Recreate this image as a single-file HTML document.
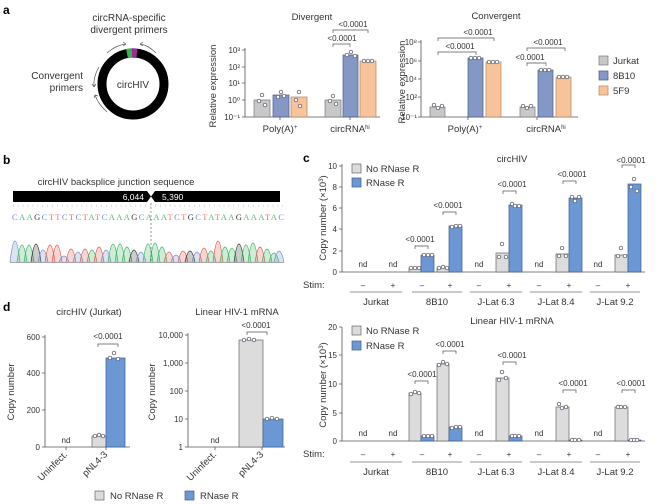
<!DOCTYPE html>
<html><head><meta charset="utf-8"><style>
body{margin:0;background:#fff}
svg{display:block;font-family:"Liberation Sans",sans-serif}
.t{font-size:9.5px;fill:#333}
.s{font-size:8px;fill:#333}
.p{font-size:8px;fill:#333;text-anchor:middle}
.ax{stroke:#555;stroke-width:0.8;fill:none}
.br{stroke:#555;stroke-width:0.7;fill:none}
.g{fill:#dcdcdc;stroke:#666;stroke-width:0.7}
.b{fill:#6b98d4;stroke:#3d5f8c;stroke-width:0.7}
.ga{fill:#c8c8c8;stroke:#777;stroke-width:0.7}
.ba{fill:#8597c4;stroke:#4a5a85;stroke-width:0.7}
.oa{fill:#f6c39a;stroke:#b58660;stroke-width:0.7}
.d{fill:#fff;stroke:#445;stroke-width:0.7}
.m{text-anchor:middle}
.e{text-anchor:end}
</style></head><body>
<svg width="660" height="504" viewBox="0 0 660 504">
<text x="3" y="14" style="font-size:12px;font-weight:bold">a</text>
<text x="3" y="164" style="font-size:12px;font-weight:bold">b</text>
<text x="303" y="162" style="font-size:12px;font-weight:bold">c</text>
<text x="3" y="311" style="font-size:12px;font-weight:bold">d</text>

<text x="129" y="21" class="t m" style="font-size:10px">circRNA-specific</text>
<text x="129" y="33" class="t m" style="font-size:10px">divergent primers</text>
<text x="83" y="79" class="t e" style="font-size:10px">Convergent</text>
<text x="83" y="91" class="t e" style="font-size:10px">primers</text>
<circle cx="133" cy="84" r="31" fill="none" stroke="#000" stroke-width="9"/>
<path d="M127 53.6 A31 31 0 0 1 132 53" fill="none" stroke="#3cb44b" stroke-width="9.5"/>
<path d="M132 53 A31 31 0 0 1 137 53.3" fill="none" stroke="#9b2b9b" stroke-width="9.5"/>
<text x="133" y="88" class="t m" style="font-size:10px">circHIV</text>
<path d="M107 53 Q116 45 126 44" class="br" stroke="#333"/><path d="M126 44 l-3 -2 M126 44 l-3 2" class="br"/>
<path d="M156 53 Q148 45 140 44" class="br"/><path d="M140 44 l3 -2 M140 44 l3 2" class="br"/>
<path d="M99 67 Q93 77 94 87" class="br"/><path d="M94 87 l-2 -3 M94 87 l2 -3" class="br"/>
<path d="M107 112 Q98 104 95 95" class="br"/><path d="M95 95 l-1 3 M95 95 l3 1" class="br"/>

<text x="312" y="20" class="t m">Divergent</text>
<text transform="translate(216,86) rotate(-90)" class="t m">Relative expression</text>
<path class="ax" d="M245 48 V117 H380"/>
<g class="s e">
<text x="240" y="53">10³</text><text x="240" y="70">10²</text><text x="240" y="86">10¹</text><text x="240" y="103">10⁰</text><text x="240" y="120">10⁻¹</text></g>
<path class="ax" d="M242 50h3M242 67h3M242 83h3M242 100h3M242 117h3M280 117v3M350 117v3"/>
<rect class="ga" x="254" y="100" width="16" height="17"/>
<rect class="ba" x="273" y="95" width="16" height="22"/>
<rect class="oa" x="291" y="97" width="16" height="20"/>
<rect class="ga" x="325" y="100" width="16" height="17"/>
<rect class="ba" x="343" y="55" width="15" height="62"/>
<rect class="oa" x="360" y="61" width="16" height="56"/>
<g class="d"><circle cx="262" cy="95" r="1.8"/><circle cx="259" cy="101" r="1.8"/><circle cx="265" cy="105" r="1.8"/>
<circle cx="281" cy="92" r="1.8"/><circle cx="278" cy="97" r="1.8"/><circle cx="284" cy="96" r="1.8"/>
<circle cx="299" cy="92" r="1.8"/><circle cx="296" cy="100" r="1.8"/><circle cx="300" cy="106" r="1.8"/>
<circle cx="333" cy="96" r="1.8"/><circle cx="330" cy="101" r="1.8"/><circle cx="336" cy="104" r="1.8"/>
<circle cx="347" cy="55" r="1.8"/><circle cx="351" cy="52" r="1.8"/><circle cx="355" cy="56" r="1.8"/>
<circle cx="364" cy="61" r="1.8"/><circle cx="368" cy="61" r="1.8"/><circle cx="372" cy="61" r="1.8"/></g>
<text x="280" y="132" class="t m">Poly(A)<tspan dy="-3" style="font-size:6px">+</tspan></text>
<text x="350" y="132" class="t m">circRNA<tspan dy="-3" style="font-size:6px">hi</tspan></text>
<text x="342" y="41" class="p">&lt;0.0001</text><path class="br" d="M333 47v-3h17v3"/>
<text x="353" y="27" class="p">&lt;0.0001</text><path class="br" d="M333 33v-3h35v3"/>

<text x="496" y="19" class="t m">Convergent</text>
<text transform="translate(405,82) rotate(-90)" class="t m">Relative expression</text>
<path class="ax" d="M421 40 V117 H578"/>
<g class="s e">
<text x="417" y="45">10⁸</text><text x="417" y="64">10⁶</text><text x="417" y="82">10⁴</text><text x="417" y="100">10²</text><text x="417" y="120">10⁻¹</text></g>
<path class="ax" d="M418 42h3M418 61h3M418 79h3M418 97h3M418 117h3M468 117v3M537 117v3"/>
<rect class="ga" x="430" y="107" width="15" height="10"/>
<rect class="ba" x="468" y="58" width="15" height="59"/>
<rect class="oa" x="486" y="62" width="15" height="55"/>
<rect class="ga" x="520" y="107" width="15" height="10"/>
<rect class="ba" x="538" y="70" width="15" height="47"/>
<rect class="oa" x="556" y="77" width="15" height="40"/>
<g class="d"><circle cx="434" cy="105" r="1.8"/><circle cx="438" cy="108" r="1.8"/><circle cx="442" cy="106" r="1.8"/>
<circle cx="471" cy="58" r="1.8"/><circle cx="475" cy="58" r="1.8"/><circle cx="479" cy="58" r="1.8"/>
<circle cx="489" cy="62" r="1.8"/><circle cx="493" cy="62" r="1.8"/><circle cx="497" cy="62" r="1.8"/>
<circle cx="523" cy="106" r="1.8"/><circle cx="527" cy="108" r="1.8"/><circle cx="531" cy="106" r="1.8"/>
<circle cx="541" cy="70" r="1.8"/><circle cx="545" cy="70" r="1.8"/><circle cx="549" cy="70" r="1.8"/>
<circle cx="559" cy="77" r="1.8"/><circle cx="563" cy="77" r="1.8"/><circle cx="567" cy="77" r="1.8"/></g>
<text x="465" y="132" class="t m">Poly(A)<tspan dy="-3" style="font-size:6px">+</tspan></text>
<text x="546" y="132" class="t m">circRNA<tspan dy="-3" style="font-size:6px">hi</tspan></text>
<text x="460" y="49" class="p">&lt;0.0001</text><path class="br" d="M438 55v-3h38v3"/>
<text x="478" y="35" class="p">&lt;0.0001</text><path class="br" d="M438 41v-3h56v3"/>
<text x="530" y="60" class="p">&lt;0.0001</text><path class="br" d="M527 66v-3h19v3"/>
<text x="548" y="45" class="p">&lt;0.0001</text><path class="br" d="M527 51v-3h38v3"/>
<rect class="ga" x="599" y="56" width="9" height="9"/><text x="613" y="64" class="t">Jurkat</text>
<rect class="ba" x="599" y="71" width="9" height="9"/><text x="613" y="79" class="t">8B10</text>
<rect class="oa" x="599" y="86" width="9" height="9"/><text x="613" y="94" class="t">5F9</text>

<text x="116" y="185" class="t m">circHIV backsplice junction sequence</text>
<path d="M13 191 H147 L151 196.5 L147 202 H13 Z M155 191 H280 V202 H155 L151 196.5 Z" fill="#000"/>
<text x="144" y="200" class="s e" style="fill:#fff;font-size:8.5px">6,044</text>
<text x="162" y="200" class="s" style="fill:#fff;font-size:8.5px">5,390</text>
<path d="M13 205H283" stroke="#aaa" stroke-width="0.5" stroke-dasharray="0.6 4.3"/>
<path d="M13 206H283" stroke="#ccc" stroke-width="2" stroke-dasharray="0.6 4.3"/>
<text x="12" y="220" textLength="272" lengthAdjust="spacing" style="font-size:8.5px;font-family:'Liberation Serif',serif"><tspan fill="#6f8fc8">C</tspan><tspan fill="#5bb57a">AA</tspan><tspan fill="#333">G</tspan><tspan fill="#6f8fc8">C</tspan><tspan fill="#e07a70">TT</tspan><tspan fill="#6f8fc8">C</tspan><tspan fill="#e07a70">T</tspan><tspan fill="#6f8fc8">C</tspan><tspan fill="#e07a70">T</tspan><tspan fill="#5bb57a">A</tspan><tspan fill="#e07a70">T</tspan><tspan fill="#6f8fc8">C</tspan><tspan fill="#5bb57a">AAA</tspan><tspan fill="#333">G</tspan><tspan fill="#6f8fc8">C</tspan><tspan fill="#5bb57a">AAA</tspan><tspan fill="#e07a70">T</tspan><tspan fill="#6f8fc8">C</tspan><tspan fill="#e07a70">T</tspan><tspan fill="#333">G</tspan><tspan fill="#6f8fc8">C</tspan><tspan fill="#e07a70">T</tspan><tspan fill="#5bb57a">A</tspan><tspan fill="#e07a70">T</tspan><tspan fill="#5bb57a">AA</tspan><tspan fill="#333">G</tspan><tspan fill="#5bb57a">AAA</tspan><tspan fill="#e07a70">T</tspan><tspan fill="#5bb57a">A</tspan><tspan fill="#6f8fc8">C</tspan></text>
<g stroke-width="0.7" fill-opacity="0.25">
<path d="M10 262Q15 220 20 262" stroke="#6f8fc8" fill="#6f8fc8"/>
<path d="M17 262Q22 228 27 262" stroke="#3cb464" fill="#3cb464"/>
<path d="M24 262Q29 228 34 262" stroke="#3cb464" fill="#3cb464"/>
<path d="M31 262Q36 226 41 262" stroke="#333" fill="#333"/>
<path d="M38 262Q43 238 48 262" stroke="#6f8fc8" fill="#6f8fc8"/>
<path d="M45 262Q50 228 55 262" stroke="#e05a50" fill="#e05a50"/>
<path d="M52 262Q57 228 62 262" stroke="#e05a50" fill="#e05a50"/>
<path d="M59 262Q64 250 69 262" stroke="#6f8fc8" fill="#6f8fc8"/>
<path d="M66 262Q71 236 76 262" stroke="#e05a50" fill="#e05a50"/>
<path d="M73 262Q78 242 83 262" stroke="#6f8fc8" fill="#6f8fc8"/>
<path d="M80 262Q85 236 90 262" stroke="#e05a50" fill="#e05a50"/>
<path d="M87 262Q92 238 97 262" stroke="#3cb464" fill="#3cb464"/>
<path d="M94 262Q99 232 104 262" stroke="#e05a50" fill="#e05a50"/>
<path d="M101 262Q106 238 111 262" stroke="#6f8fc8" fill="#6f8fc8"/>
<path d="M108 262Q113 226 118 262" stroke="#3cb464" fill="#3cb464"/>
<path d="M115 262Q120 226 125 262" stroke="#3cb464" fill="#3cb464"/>
<path d="M122 262Q127 232 132 262" stroke="#3cb464" fill="#3cb464"/>
<path d="M129 262Q134 238 139 262" stroke="#333" fill="#333"/>
<path d="M136 262Q141 242 146 262" stroke="#6f8fc8" fill="#6f8fc8"/>
<path d="M143 262Q148 226 153 262" stroke="#3cb464" fill="#3cb464"/>
<path d="M150 262Q155 224 160 262" stroke="#3cb464" fill="#3cb464"/>
<path d="M157 262Q162 232 167 262" stroke="#3cb464" fill="#3cb464"/>
<path d="M164 262Q169 242 174 262" stroke="#e05a50" fill="#e05a50"/>
<path d="M171 262Q176 248 181 262" stroke="#6f8fc8" fill="#6f8fc8"/>
<path d="M178 262Q183 240 188 262" stroke="#e05a50" fill="#e05a50"/>
<path d="M185 262Q190 240 195 262" stroke="#333" fill="#333"/>
<path d="M192 262Q197 242 202 262" stroke="#6f8fc8" fill="#6f8fc8"/>
<path d="M199 262Q204 234 209 262" stroke="#e05a50" fill="#e05a50"/>
<path d="M206 262Q211 240 216 262" stroke="#3cb464" fill="#3cb464"/>
<path d="M213 262Q218 220 223 262" stroke="#e05a50" fill="#e05a50"/>
<path d="M220 262Q225 232 230 262" stroke="#3cb464" fill="#3cb464"/>
<path d="M227 262Q232 234 237 262" stroke="#3cb464" fill="#3cb464"/>
<path d="M234 262Q239 226 244 262" stroke="#333" fill="#333"/>
<path d="M241 262Q246 228 251 262" stroke="#3cb464" fill="#3cb464"/>
<path d="M248 262Q253 224 258 262" stroke="#3cb464" fill="#3cb464"/>
<path d="M255 262Q260 232 265 262" stroke="#e05a50" fill="#e05a50"/>
<path d="M262 262Q267 236 272 262" stroke="#3cb464" fill="#3cb464"/>
<path d="M269 262Q274 244 279 262" stroke="#3cb464" fill="#3cb464"/>
<path d="M274 262Q279 240 284 262" stroke="#6f8fc8" fill="#6f8fc8"/>
</g>
<path d="M10 262.5H284" stroke="#888" stroke-width="0.8"/>
<path d="M151 203V262" stroke="#555" stroke-width="0.6" stroke-dasharray="2 2"/>

<text x="512" y="162" class="t m">circHIV</text>
<text transform="translate(326,218) rotate(-90)" class="t m">Copy number (×10<tspan dy="-3" style="font-size:6px">3</tspan><tspan dy="3">)</tspan></text>
<path class="ax" d="M342 164 V272 H645"/>
<g class="s e"><text x="337" y="169">10</text><text x="337" y="190">8</text><text x="337" y="211">6</text><text x="337" y="232">4</text><text x="337" y="254">2</text><text x="337" y="275">0</text></g>
<path class="ax" d="M339 166h3M339 187h3M339 208h3M339 229h3M339 251h3M339 272h3"/>
<rect class="g" x="352" y="164" width="9" height="9"/><text x="366" y="172" class="t">No RNase R</text>
<rect class="b" x="352" y="178" width="9" height="9"/><text x="366" y="186" class="t">RNase R</text>
<g class="s m"><text x="363" y="267">nd</text><text x="393" y="267">nd</text><text x="479" y="267">nd</text><text x="539" y="267">nd</text><text x="598" y="267">nd</text></g>
<rect class="g" x="409" y="268" width="12" height="4"/><rect class="b" x="421" y="255" width="13" height="17"/>
<rect class="g" x="437" y="268" width="12" height="4"/><rect class="b" x="449" y="226" width="13" height="46"/>
<rect class="g" x="496" y="253" width="13" height="19"/><rect class="b" x="509" y="205" width="13" height="67"/>
<rect class="g" x="556" y="254" width="13" height="18"/><rect class="b" x="569" y="198" width="13" height="74"/>
<rect class="g" x="615" y="255" width="13" height="17"/><rect class="b" x="628" y="184" width="13" height="88"/>
<g class="d"><circle cx="411" cy="268" r="1.8"/><circle cx="415" cy="268" r="1.8"/><circle cx="419" cy="268" r="1.8"/>
<circle cx="424" cy="255" r="1.8"/><circle cx="428" cy="255" r="1.8"/><circle cx="432" cy="255" r="1.8"/>
<circle cx="439" cy="268" r="1.8"/><circle cx="443" cy="267" r="1.8"/><circle cx="447" cy="268" r="1.8"/>
<circle cx="452" cy="227" r="1.8"/><circle cx="456" cy="226" r="1.8"/><circle cx="460" cy="226" r="1.8"/>
<circle cx="499" cy="257" r="1.8"/><circle cx="502" cy="244" r="1.8"/><circle cx="506" cy="257" r="1.8"/>
<circle cx="512" cy="204" r="1.8"/><circle cx="515" cy="206" r="1.8"/><circle cx="519" cy="206" r="1.8"/>
<circle cx="559" cy="256" r="1.8"/><circle cx="562" cy="248" r="1.8"/><circle cx="566" cy="256" r="1.8"/>
<circle cx="572" cy="197" r="1.8"/><circle cx="575" cy="201" r="1.8"/><circle cx="579" cy="197" r="1.8"/>
<circle cx="618" cy="256" r="1.8"/><circle cx="621" cy="248" r="1.8"/><circle cx="625" cy="256" r="1.8"/>
<circle cx="631" cy="187" r="1.8"/><circle cx="634" cy="179" r="1.8"/><circle cx="637" cy="191" r="1.8"/></g>
<text x="420" y="242" class="p">&lt;0.0001</text><path class="br" d="M415 249v-3h13v3"/>
<text x="448" y="208" class="p">&lt;0.0001</text><path class="br" d="M443 215v-3h13v3"/>
<text x="512" y="187" class="p">&lt;0.0001</text><path class="br" d="M503 194v-3h13v3"/>
<text x="572" y="177" class="p">&lt;0.0001</text><path class="br" d="M563 184v-3h13v3"/>
<text x="631" y="163" class="p">&lt;0.0001</text><path class="br" d="M622 168v-3h13v3"/>
<text x="303" y="288" class="t">Stim:</text>
<g class="s m"><text x="363" y="288">–</text><text x="393" y="288">+</text><text x="422" y="288">–</text><text x="450" y="288">+</text><text x="479" y="288">–</text><text x="509" y="288">+</text><text x="539" y="288">–</text><text x="569" y="288">+</text><text x="598" y="288">–</text><text x="628" y="288">+</text></g>
<path d="M350 292h52M412 292h50M470 292h52M530 292h52M590 292h50" stroke="#aaa" stroke-width="1.2"/>
<g class="t m"><text x="376" y="305">Jurkat</text><text x="437" y="305">8B10</text><text x="496" y="305">J-Lat 6.3</text><text x="556" y="305">J-Lat 8.4</text><text x="615" y="305">J-Lat 9.2</text></g>

<text x="512" y="324" class="t m">Linear HIV-1 mRNA</text>
<text transform="translate(326,385) rotate(-90)" class="t m">Copy number (×10<tspan dy="-3" style="font-size:6px">3</tspan><tspan dy="3">)</tspan></text>
<path class="ax" d="M342 327 V441 H645"/>
<g class="s e"><text x="337" y="330">20</text><text x="337" y="358">15</text><text x="337" y="387">10</text><text x="337" y="416">5</text><text x="337" y="444">0</text></g>
<path class="ax" d="M339 327h3M339 355h3M339 384h3M339 413h3M339 441h3"/>
<rect class="g" x="352" y="326" width="9" height="9"/><text x="366" y="334" class="t">No RNase R</text>
<rect class="b" x="352" y="341" width="9" height="9"/><text x="366" y="349" class="t">RNase R</text>
<g class="s m"><text x="363" y="436">nd</text><text x="393" y="436">nd</text><text x="479" y="436">nd</text><text x="539" y="436">nd</text><text x="598" y="436">nd</text></g>
<rect class="g" x="409" y="393" width="12" height="48"/><rect class="b" x="421" y="436" width="13" height="5"/>
<rect class="g" x="437" y="364" width="12" height="77"/><rect class="b" x="449" y="427" width="13" height="14"/>
<rect class="g" x="496" y="378" width="13" height="63"/><rect class="b" x="509" y="436" width="13" height="5"/>
<rect class="g" x="556" y="407" width="13" height="34"/><rect class="b" x="569" y="440" width="13" height="1"/>
<rect class="g" x="615" y="407" width="13" height="34"/><rect class="b" x="628" y="440" width="13" height="1"/>
<g class="d"><circle cx="411" cy="394" r="1.8"/><circle cx="415" cy="392" r="1.8"/><circle cx="419" cy="393" r="1.8"/>
<circle cx="424" cy="436" r="1.8"/><circle cx="428" cy="436" r="1.8"/><circle cx="432" cy="436" r="1.8"/>
<circle cx="439" cy="365" r="1.8"/><circle cx="443" cy="362" r="1.8"/><circle cx="447" cy="364" r="1.8"/>
<circle cx="452" cy="428" r="1.8"/><circle cx="456" cy="427" r="1.8"/><circle cx="460" cy="427" r="1.8"/>
<circle cx="499" cy="380" r="1.8"/><circle cx="502" cy="372" r="1.8"/><circle cx="506" cy="378" r="1.8"/>
<circle cx="512" cy="436" r="1.8"/><circle cx="515" cy="436" r="1.8"/><circle cx="519" cy="436" r="1.8"/>
<circle cx="559" cy="404" r="1.8"/><circle cx="562" cy="408" r="1.8"/><circle cx="566" cy="407" r="1.8"/>
<circle cx="572" cy="440" r="1.8"/><circle cx="575" cy="440" r="1.8"/><circle cx="579" cy="440" r="1.8"/>
<circle cx="618" cy="407" r="1.8"/><circle cx="621" cy="407" r="1.8"/><circle cx="625" cy="407" r="1.8"/>
<circle cx="631" cy="440" r="1.8"/><circle cx="634" cy="440" r="1.8"/><circle cx="637" cy="440" r="1.8"/></g>
<text x="422" y="377" class="p">&lt;0.0001</text><path class="br" d="M415 384v-3h13v3"/>
<text x="450" y="347" class="p">&lt;0.0001</text><path class="br" d="M443 354v-3h13v3"/>
<text x="512" y="358" class="p">&lt;0.0001</text><path class="br" d="M503 365v-3h13v3"/>
<text x="573" y="386" class="p">&lt;0.0001</text><path class="br" d="M563 393v-3h13v3"/>
<text x="631" y="386" class="p">&lt;0.0001</text><path class="br" d="M622 393v-3h13v3"/>
<text x="303" y="457" class="t">Stim:</text>
<g class="s m"><text x="363" y="457">–</text><text x="393" y="457">+</text><text x="422" y="457">–</text><text x="450" y="457">+</text><text x="479" y="457">–</text><text x="509" y="457">+</text><text x="539" y="457">–</text><text x="569" y="457">+</text><text x="598" y="457">–</text><text x="628" y="457">+</text></g>
<path d="M350 462h52M412 462h50M470 462h52M530 462h52M590 462h50" stroke="#aaa" stroke-width="1.2"/>
<g class="t m"><text x="376" y="475">Jurkat</text><text x="437" y="475">8B10</text><text x="496" y="475">J-Lat 6.3</text><text x="556" y="475">J-Lat 8.4</text><text x="615" y="475">J-Lat 9.2</text></g>

<text x="89" y="315" class="t m">circHIV (Jurkat)</text>
<text transform="translate(14,392) rotate(-90)" class="t m">Copy number</text>
<path class="ax" d="M45 335 V447 H130"/>
<g class="s e"><text x="40" y="340">600</text><text x="40" y="376">400</text><text x="40" y="413">200</text><text x="40" y="450">0</text></g>
<path class="ax" d="M42 337h3M42 373h3M42 410h3M42 447h3M66 447v3M106 447v3"/>
<text x="66" y="443" class="s m">nd</text>
<rect class="g" x="92" y="436" width="14" height="11"/><rect class="b" x="106" y="358" width="19" height="89"/>
<g class="d"><circle cx="95" cy="436" r="1.8"/><circle cx="99" cy="435" r="1.8"/><circle cx="103" cy="436" r="1.8"/>
<circle cx="110" cy="358" r="1.8"/><circle cx="114" cy="353" r="1.8"/><circle cx="118" cy="359" r="1.8"/></g>
<text x="108" y="339" class="p">&lt;0.0001</text><path class="br" d="M98 347v-3h20v3"/>
<text transform="translate(68,455) rotate(-45)" class="t e">Uninfect.</text>
<text transform="translate(108,455) rotate(-45)" class="t e">pNL4-3</text>

<text x="237" y="315" class="t m">Linear HIV-1 mRNA</text>
<text transform="translate(155,392) rotate(-90)" class="t m">Copy number</text>
<path class="ax" d="M188 333 V447 H285"/>
<g class="s e"><text x="183" y="338">10,000</text><text x="183" y="366">1,000</text><text x="183" y="394">100</text><text x="183" y="422">10</text><text x="183" y="450">1</text></g>
<path class="ax" d="M185 335h3M185 363h3M185 391h3M185 419h3M185 447h3M215 447v3M262 447v3"/>
<text x="215" y="443" class="s m">nd</text>
<rect class="g" x="239" y="340" width="24" height="107"/><rect class="b" x="263" y="419" width="20" height="28"/>
<g class="d"><circle cx="244" cy="340" r="1.8"/><circle cx="249" cy="339" r="1.8"/><circle cx="254" cy="340" r="1.8"/>
<circle cx="267" cy="419" r="1.8"/><circle cx="272" cy="418" r="1.8"/><circle cx="277" cy="419" r="1.8"/></g>
<text x="256" y="328" class="p">&lt;0.0001</text><path class="br" d="M247 335v-3h20v3"/>
<text transform="translate(217,455) rotate(-45)" class="t e">Uninfect.</text>
<text transform="translate(264,455) rotate(-45)" class="t e">pNL4-3</text>

<rect class="g" x="95" y="491" width="9" height="9"/><text x="110" y="499" class="t">No RNase R</text>
<rect class="b" x="185" y="491" width="9" height="9"/><text x="200" y="499" class="t">RNase R</text>
</svg>
</body></html>
